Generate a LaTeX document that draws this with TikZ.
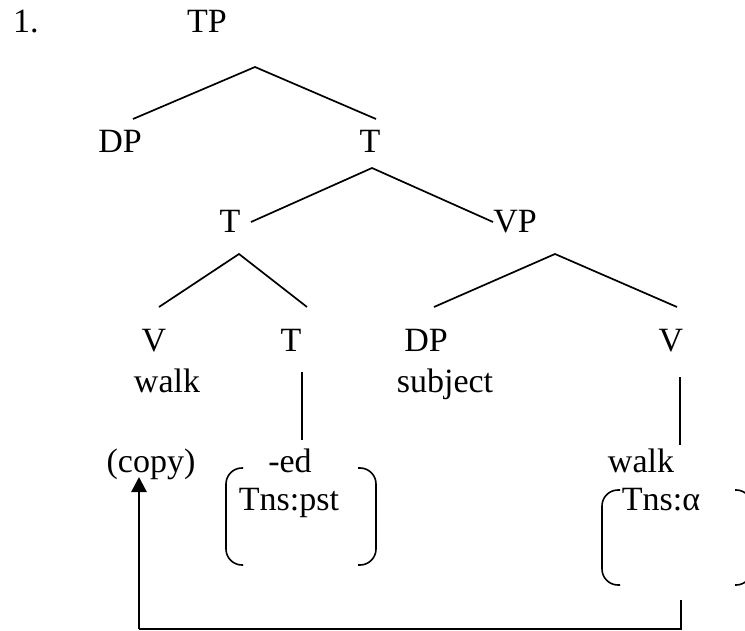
\documentclass[tikz,border=0pt]{standalone}
\usepackage{fontspec}
\setmainfont{Liberation Serif}
\usetikzlibrary{arrows.meta}

\begin{document}
\begin{tikzpicture}[x=1pt, y=-1pt]
        % Define styles
        \tikzset{
            label/.style={inner sep=0pt, anchor=base, font=\fontsize{34}{40}\selectfont},
            branch/.style={line width=1.7pt},
            bracket/.style={line width=1.6pt, rounded corners=16pt},
            arrow/.style={line width=2.7pt, -{Triangle[width=15pt,length=15pt]}}
        }
        \clip (0,0) rectangle (745,631);

        % Nodes
        \node[label, anchor=base west] (num) at (13,33) {1.};
        \node[label] (tp) at (207,33) {TP};
        \node[label] (dp_spec) at (120,153) {DP};
        \node[label] (tbar) at (370,153) {T};
        \node[label] (t_head) at (230,233) {T};
        \node[label] (vp) at (515,233) {VP};
        \node[label] (v_moved) at (154,352) {V};
        \node[label] (t_low) at (291,352) {T};
        \node[label] (dp_subj) at (426,352) {DP};
        \node[label] (v_low) at (671,352) {V};
        \node[label] (walk_moved) at (167,392) {walk};
        \node[label] (subj) at (445,392) {subject};
        \node[label] (copy) at (151,472) {(copy)};
        \node[label] (ed) at (290,472) {-ed};
        \node[label] (walk_low) at (641,472) {walk};
        \node[label] (tns_pst) at (289,510) {Tns:pst};
        \node[label] (tns_alpha) at (661,510) {Tns:α};

        % Branch points
        \coordinate (tp_top) at (255,67);
        \coordinate (tp_l) at (133,119);
        \coordinate (tp_r) at (376,119);
        \coordinate (tbar_top) at (372,168);
        \coordinate (tbar_l) at (251,222);
        \coordinate (tbar_r) at (493,222);
        \coordinate (thead_top) at (239,254);
        \coordinate (thead_l) at (159,307);
        \coordinate (thead_r) at (307,307);
        \coordinate (vp_top) at (555,254);
        \coordinate (vp_l) at (434,307);
        \coordinate (vp_r) at (677,307);
        \coordinate (tlow_top) at (302,372);
        \coordinate (tlow_bot) at (302,440);
        \coordinate (vlow_top) at (680,377);
        \coordinate (vlow_bot) at (680,445);
        \coordinate (alpha_foot) at (681,600);
        \coordinate (corner_l) at (139,629);
        \coordinate (copy_foot) at (139,477);

        % Branches
        \draw[branch] (tp_l) -- (tp_top) -- (tp_r);
        \draw[branch] (tbar_l) -- (tbar_top) -- (tbar_r);
        \draw[branch] (thead_l) -- (thead_top) -- (thead_r);
        \draw[branch] (vp_l) -- (vp_top) -- (vp_r);
        \draw[branch] (tlow_top) -- (tlow_bot);
        \draw[branch] (vlow_top) -- (vlow_bot);

        % Feature brackets
        \draw[bracket] (243,468) -- (226,468) -- (226,565) -- (243,565);
        \draw[bracket] (358,468) -- (376,468) -- (376,565) -- (358,565);
        \draw[bracket] (620,490) -- (602,490) -- (602,585) -- (620,585);
        \draw[bracket] (735,490) -- (752,490) -- (752,585) -- (735,585);

        % Arrows
        \draw[branch] (alpha_foot) |- (corner_l);
        \draw[arrow] (corner_l) -- (copy_foot);
    \end{tikzpicture}
\end{document}
